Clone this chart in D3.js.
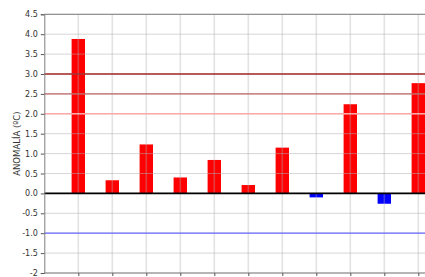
<!DOCTYPE html>
<html><head><meta charset="utf-8">
<script src="https://cdn.jsdelivr.net/npm/d3@7"></script>
<style>body{margin:0;background:#fff}svg{display:block}</style>
</head><body>
<script>
const categories = ["1","2","3","4","5","6","7","8","9","10","11"];
const values = [3.88, 0.33, 1.23, 0.40, 0.84, 0.21, 1.15, -0.10, 2.24, -0.26, 2.77];
const yTicks = [-2,-1.5,-1,-0.5,0,0.5,1,1.5,2,2.5,3,3.5,4,4.5];
const refLines = [
  {v:3.0, c:"#a52a2a", w:1.5},
  {v:2.5, c:"#c06868", w:1.2},
  {v:2.0, c:"#ffaaaa", w:1.5},
  {v:-1.0, c:"#6a6aff", w:1.2}
];
const W=425,H=277, L=44.3, T=14.3, B=273;
const svg=d3.select("body").append("svg").attr("width",W).attr("height",H);
const y=d3.scaleLinear().domain([-2,4.5]).range([B,T]);
const x=d3.scaleLinear().domain([-1,11]).range([L,L+34*12]);
const g=svg.append("g");
// bars
g.selectAll("rect.bar").data(values).enter().append("rect")
 .attr("x",(d,i)=>x(i)-6.7).attr("width",13.4)
 .attr("y",d=>y(Math.max(0,d))).attr("height",d=>Math.abs(y(d)-y(0)))
 .attr("fill",d=>d>=0?"#ff0000":"#0000ff");
// grid
g.selectAll("line.hg").data(yTicks).enter().append("line")
 .attr("x1",L).attr("x2",W).attr("y1",d=>y(d)).attr("y2",d=>y(d))
 .attr("stroke","#b0b0b0").attr("stroke-opacity",0.5).attr("stroke-width",1);
g.selectAll("line.vg").data(categories).enter().append("line")
 .attr("x1",(d,i)=>x(i)).attr("x2",(d,i)=>x(i)).attr("y1",T).attr("y2",B)
 .attr("stroke","#b0b0b0").attr("stroke-opacity",0.35).attr("stroke-width",1.6);
// reference lines
g.selectAll("line.ref").data(refLines).enter().append("line")
 .attr("x1",L).attr("x2",W).attr("y1",d=>y(d.v)).attr("y2",d=>y(d.v))
 .attr("stroke",d=>d.c).attr("stroke-width",d=>d.w);
g.append("line").attr("x1",L).attr("x2",W).attr("y1",y(0)).attr("y2",y(0))
 .attr("stroke","#000").attr("stroke-width",1.6);
// spines
svg.append("line").attr("x1",L).attr("x2",W).attr("y1",T).attr("y2",T).attr("stroke","#808080").attr("stroke-width",1);
svg.append("line").attr("x1",L).attr("x2",W).attr("y1",B).attr("y2",B).attr("stroke","#808080").attr("stroke-width",1.2);
// y axis
const ya=d3.axisLeft(y).tickValues(yTicks).tickSize(3.5).tickPadding(3)
 .tickFormat(d=>d.toFixed(1));
const yg=svg.append("g").attr("transform",`translate(${L},0)`).call(ya);
yg.select(".domain").attr("stroke","#808080");
yg.selectAll(".tick line").attr("stroke","#555");
yg.selectAll("text").attr("font-family","DejaVu Sans").attr("font-size",8).attr("fill","#333");
yg.selectAll(".tick").filter(d=>d===-2).select("text").text("-2");
// x ticks
const xa=d3.axisBottom(x).tickValues(d3.range(categories.length)).tickSize(3).tickFormat("");
const xg=svg.append("g").attr("transform",`translate(0,${B})`).call(xa);
xg.select(".domain").remove();
xg.selectAll(".tick line").attr("stroke","#555");
// y label
svg.append("text").attr("transform",`translate(19.5,${(T+B)/2}) rotate(-90)`)
 .attr("text-anchor","middle").attr("font-family","DejaVu Sans").attr("font-size",8.5).attr("fill","#333")
 .text("ANOMALÍA (ºC)");
</script>
</body></html>
